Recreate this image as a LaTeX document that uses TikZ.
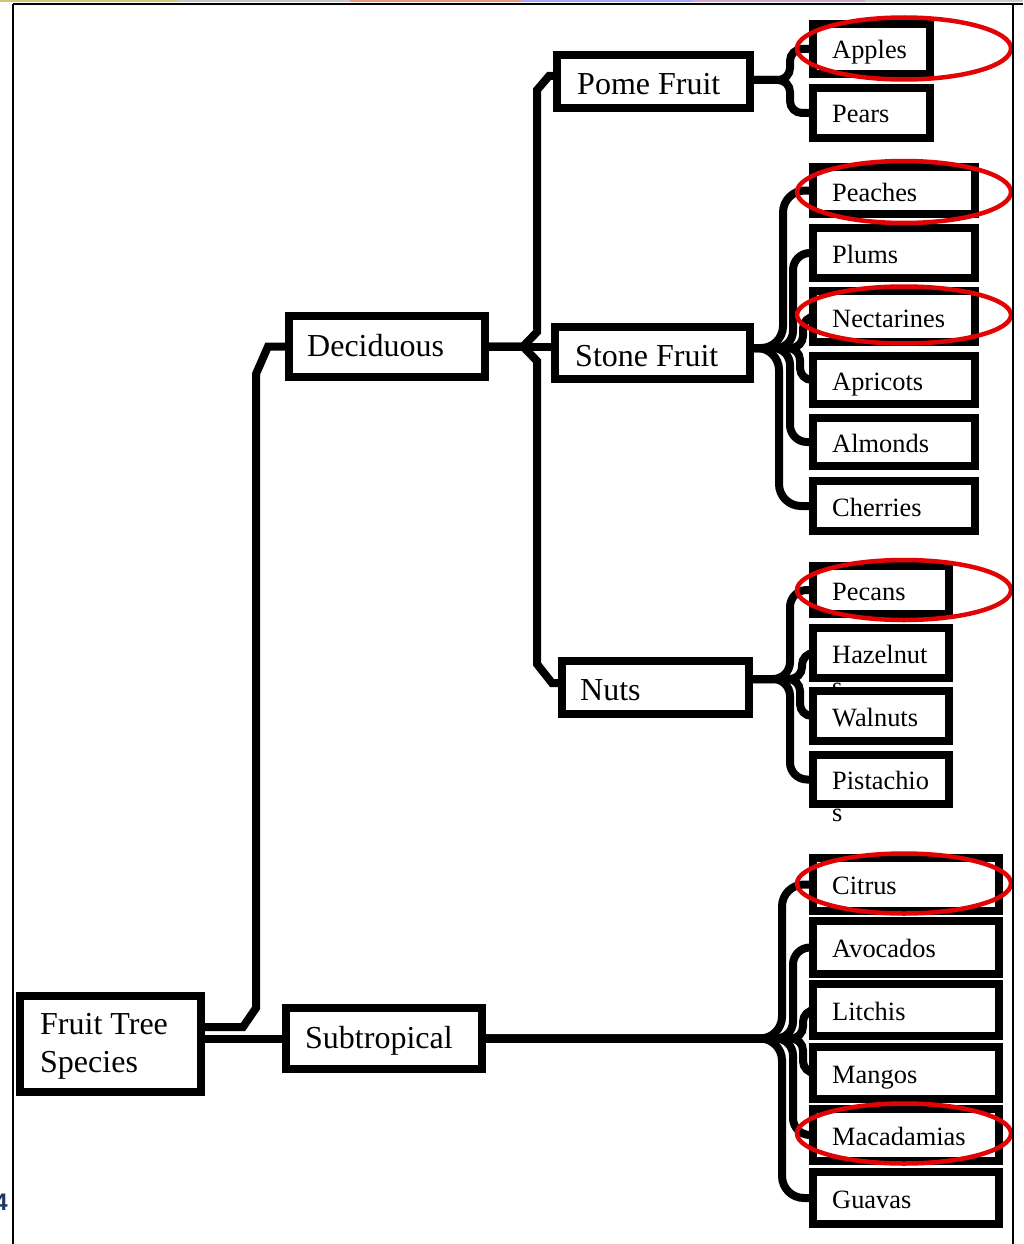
\documentclass[tikz,border=0pt]{standalone}
\usepackage{fontspec}
\setmainfont{Liberation Serif}
\newfontfamily\numfont{Liberation Sans}
\definecolor{ringred}{RGB}{226,4,4}
\definecolor{pagenum}{RGB}{28,58,100}
\tikzset{
  box/.style={draw=black, line width=8pt, fill=white, inner sep=0pt, rectangle},
  conn/.style={draw=black, line width=8pt, rounded corners=12pt},
  connL/.style={draw=black, line width=8pt, rounded corners=22pt},
  connM/.style={draw=black, line width=8pt, rounded corners=17pt},
  chamf/.style={draw=black, line width=8pt, line join=miter},
  leaftxt/.style={font=\fontsize{26.4}{31}\selectfont, anchor=base west, inner sep=0pt},
  midtxt/.style={font=\fontsize{32}{38}\selectfont, anchor=base west, inner sep=0pt},
  redring/.style={draw=ringred, line width=4.5pt},
}
\begin{document}
\begin{tikzpicture}[x=1pt,y=-1pt]
\useasboundingbox (0,0) rectangle (1023,1244);
% top strip
\fill[olive!45] (0,0) rectangle (178,2);
\fill[gray!45] (178,0) rectangle (350,2);
\fill[red!35!brown!60] (350,0) rectangle (521,2);
\fill[blue!35] (521,0) rectangle (693,2);
\fill[violet!35] (693,0) rectangle (865,2);
\fill[gray!40] (865,0) rectangle (1023,2);

% ---------- boxes (positions only; drawn later in order) ----------
\path
  (110.5,1044) node[box, minimum width=181pt, minimum height=96pt] (root) {}
  (384,1038.5) node[box, minimum width=196pt, minimum height=61pt] (subtrop) {}
  (387,346.5) node[box, minimum width=196pt, minimum height=61pt] (decid) {}
  (653.5,81.5) node[box, minimum width=193pt, minimum height=53pt] (pome) {}
  (652.5,353) node[box, minimum width=195pt, minimum height=52pt] (stone) {}
  (655.5,687.5) node[box, minimum width=187pt, minimum height=53pt] (nuts) {};

% ---------- connectors ----------
\draw[chamf] ([yshift=17pt]root.east) -- (243,1027) -- (256,1008) -- (256,374) -- (268,346.5) -- (decid.west);
\draw[chamf] (root.east |- subtrop.west) -- (subtrop.west);
\draw[chamf] (decid.east) -- (stone.west |- decid.east);
\draw[chamf] (decid.east) -- (523,346.5) -- (537,332) -- (537,90) -- (549,76) -- ([yshift=5.5pt]pome.west);
\draw[chamf] (decid.east) -- (523,346.5) -- (537,361) -- (537,664) -- (552,683) -- ([yshift=4.5pt]nuts.west);

% leaf boxes
\path
  (871.5,49) node[box, minimum width=117pt, minimum height=50pt] (apples) {}
  (871.5,113) node[box, minimum width=117pt, minimum height=50pt] (pears) {}
  (894,190.5) node[box, minimum width=162pt, minimum height=47pt] (peaches) {}
  (894,253) node[box, minimum width=162pt, minimum height=50pt] (plums) {}
  (894,316.5) node[box, minimum width=162pt, minimum height=51pt] (nect) {}
  (894,380) node[box, minimum width=162pt, minimum height=48pt] (apric) {}
  (894,442) node[box, minimum width=162pt, minimum height=48pt] (almonds) {}
  (894,506) node[box, minimum width=162pt, minimum height=50pt] (cherries) {}
  (881,590) node[box, minimum width=136pt, minimum height=48pt] (pecans) {}
  (881,653) node[box, minimum width=136pt, minimum height=50pt] (hazel) {}
  (881,716) node[box, minimum width=136pt, minimum height=50pt] (walnuts) {}
  (881,779.5) node[box, minimum width=136pt, minimum height=49pt] (pist) {}
  (906,884.5) node[box, minimum width=186pt, minimum height=53pt] (citrus) {}
  (906,947.5) node[box, minimum width=186pt, minimum height=53pt] (avoc) {}
  (906,1010) node[box, minimum width=186pt, minimum height=52pt] (litchis) {}
  (906,1073) node[box, minimum width=186pt, minimum height=52pt] (mangos) {}
  (906,1135) node[box, minimum width=186pt, minimum height=52pt] (macad) {}
  (906,1198) node[box, minimum width=186pt, minimum height=52pt] (guavas) {};

\draw[conn] ([yshift=1.5pt]pome.east) -- (790,80) |- (apples.west);
\draw[conn] ([yshift=1.5pt]pome.east) -- (790,80) |- (pears.west);

\draw[connL] ([yshift=5pt]stone.east) -- (783,348) |- (peaches.west);
\draw[connM] ([yshift=5pt]stone.east) -- (793,348) |- (plums.west);
\draw[conn] ([yshift=5pt]stone.east) -- (803,348) |- (nect.west);
\draw[conn] ([yshift=5pt]stone.east) -- (800,348) |- (apric.west);
\draw[connM] ([yshift=5pt]stone.east) -- (790,348) |- (almonds.west);
\draw[connL] ([yshift=5pt]stone.east) -- (779,348) |- (cherries.west);

\draw[connM] ([yshift=8.5pt]nuts.east) -- (790,679) |- (pecans.west);
\draw[conn] ([yshift=8.5pt]nuts.east) -- (802,679) |- (hazel.west);
\draw[conn] ([yshift=8.5pt]nuts.east) -- (800,679) |- (walnuts.west);
\draw[connM] ([yshift=8.5pt]nuts.east) -- (790,679) |- (pist.west);

\draw[connL] (subtrop.east) -- (782,1038.5) |- (citrus.west);
\draw[connM] (subtrop.east) -- (793,1038.5) |- (avoc.west);
\draw[conn] (subtrop.east) -- (803,1038.5) |- (litchis.west);
\draw[conn] (subtrop.east) -- (803,1038.5) |- (mangos.west);
\draw[connM] (subtrop.east) -- (793,1038.5) |- (macad.west);
\draw[connL] (subtrop.east) -- (782,1038.5) |- (guavas.west);

% ---------- boxes drawn over connectors, each followed by its text ----------
\node[box, minimum width=181pt, minimum height=96pt] (rootB) at (root) {};
\node[midtxt] (rootT1) at (40,1034) {Fruit Tree};
\node[midtxt] (rootT2) at (40,1072) {Species};
\node[box, minimum width=196pt, minimum height=61pt] (subtropB) at (subtrop) {};
\node[midtxt] (subtropT) at (305,1048) {Subtropical};
\node[box, minimum width=196pt, minimum height=61pt] (decidB) at (decid) {};
\node[midtxt] (decidT) at (307,356) {Deciduous};
\node[box, minimum width=193pt, minimum height=53pt] (pomeB) at (pome) {};
\node[midtxt] (pomeT) at (577,95) {Pome Fruit};
\node[box, minimum width=195pt, minimum height=52pt] (stoneB) at (stone) {};
\node[midtxt] (stoneT) at (575,366) {Stone Fruit};
\node[box, minimum width=187pt, minimum height=53pt] (nutsB) at (nuts) {};
\node[midtxt] (nutsT) at (580,700) {Nuts};

\node[box, minimum width=117pt, minimum height=50pt] (applesB) at (apples) {};
\node[leaftxt] (applesT) at (832,59) {Apples};
\node[box, minimum width=117pt, minimum height=50pt] (pearsB) at (pears) {};
\node[leaftxt] (pearsT) at (832,123) {Pears};

\node[box, minimum width=162pt, minimum height=47pt] (peachesB) at (peaches) {};
\node[leaftxt] (peachesT) at (832,201) {Peaches};
\node[box, minimum width=162pt, minimum height=50pt] (plumsB) at (plums) {};
\node[leaftxt] (plumsT) at (832,263) {Plums};
\node[box, minimum width=162pt, minimum height=51pt] (nectB) at (nect) {};
\node[leaftxt] (nectT) at (832,327) {Nectarines};
\node[box, minimum width=162pt, minimum height=48pt] (apricB) at (apric) {};
\node[leaftxt] (apricT) at (832,390) {Apricots};
\node[box, minimum width=162pt, minimum height=48pt] (almondsB) at (almonds) {};
\node[leaftxt] (almondsT) at (832,452) {Almonds};
\node[box, minimum width=162pt, minimum height=50pt] (cherriesB) at (cherries) {};
\node[leaftxt] (cherriesT) at (832,516) {Cherries};

\node[box, minimum width=136pt, minimum height=48pt] (pecansB) at (pecans) {};
\node[leaftxt] (pecansT) at (832,600) {Pecans};
\node[box, minimum width=136pt, minimum height=50pt] (hazelB) at (hazel) {};
\node[leaftxt] (hazelT) at (832,663) {Hazelnut};
\node[leaftxt] (hazelT2) at (832,695) {s};
\node[box, minimum width=136pt, minimum height=50pt] (walnutsB) at (walnuts) {};
\node[leaftxt] (walnutsT) at (832,726) {Walnuts};
\node[box, minimum width=136pt, minimum height=49pt] (pistB) at (pist) {};
\node[leaftxt] (pistT) at (832,789.5) {Pistachio};
\node[leaftxt] (pistT2) at (832,821) {s};

\node[box, minimum width=186pt, minimum height=53pt] (citrusB) at (citrus) {};
\node[leaftxt] (citrusT) at (832,894.5) {Citrus};
\node[box, minimum width=186pt, minimum height=53pt] (avocB) at (avoc) {};
\node[leaftxt] (avocT) at (832,957.5) {Avocados};
\node[box, minimum width=186pt, minimum height=52pt] (litchisB) at (litchis) {};
\node[leaftxt] (litchisT) at (832,1020) {Litchis};
\node[box, minimum width=186pt, minimum height=52pt] (mangosB) at (mangos) {};
\node[leaftxt] (mangosT) at (832,1083) {Mangos};
\node[box, minimum width=186pt, minimum height=52pt] (macadB) at (macad) {};
\node[leaftxt] (macadT) at (832,1145) {Macadamias};
\node[box, minimum width=186pt, minimum height=52pt] (guavasB) at (guavas) {};
\node[leaftxt] (guavasT) at (832,1208) {Guavas};

% ---------- red rings ----------
\draw[redring] (904,48.5) ellipse [x radius=107pt, y radius=31pt];
\draw[redring] (904,192) ellipse [x radius=107pt, y radius=31pt];
\draw[redring] (904,315) ellipse [x radius=107pt, y radius=28.5pt];
\draw[redring] (904,590) ellipse [x radius=107pt, y radius=30pt];
\draw[redring] (904,883.5) ellipse [x radius=107pt, y radius=30pt];
\draw[redring] (904,1133.5) ellipse [x radius=107pt, y radius=30pt];

% ---------- frame ----------
\draw[black, line width=2pt] (13,4) -- (1023,4);
\draw[black, line width=2.5pt] (13,4) -- (13,1244);
\draw[black, line width=1.5pt] (1013,4) -- (1013,1244);
\node[font=\numfont\bfseries\fontsize{24}{28}\selectfont, text=pagenum, anchor=base east, inner sep=0pt] (pgnum) at (8,1210) {4};
\end{tikzpicture}
\end{document}
